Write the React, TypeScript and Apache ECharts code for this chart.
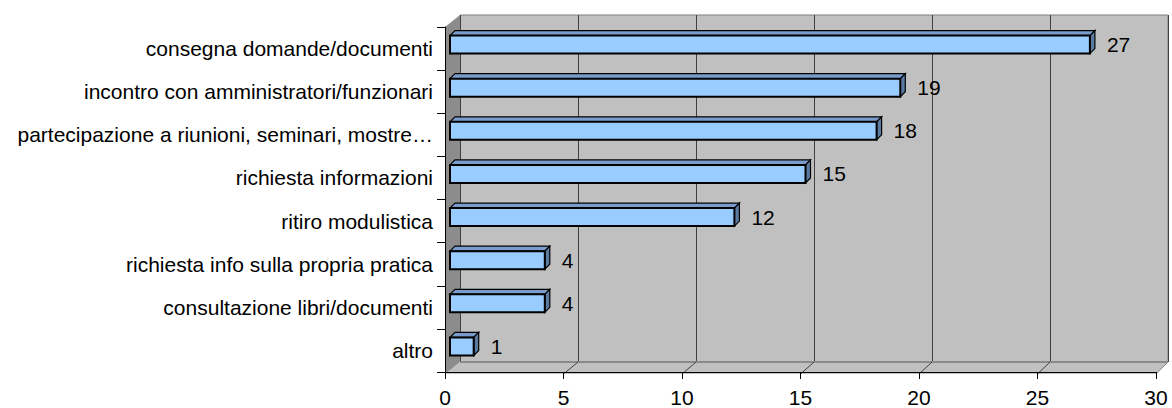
import React, { useEffect, useRef } from "react";
import * as echarts from "echarts";

const categories = [
  "consegna domande/documenti",
  "incontro con amministratori/funzionari",
  "partecipazione a riunioni, seminari, mostre…",
  "richiesta informazioni",
  "ritiro modulistica",
  "richiesta info sulla propria pratica",
  "consultazione libri/documenti",
  "altro",
];
const values = [27, 19, 18, 15, 12, 4, 4, 1];
const xMin = 0;
const xMax = 30;
const xInterval = 5;

const W = 1172;
const H = 408;
const FRONT = { left: 445, top: 27, right: 1156, bottom: 374 };
const BACK = { left: 460, top: 15, right: 1168, bottom: 362 };
const FONT = "'Liberation Sans', Arial, sans-serif";

export default function App() {
  const ref = useRef<HTMLDivElement>(null);

  useEffect(() => {
    if (!ref.current) return;
    const chart = echarts.init(ref.current, undefined, { renderer: "svg" });

    const fs = (FRONT.right - FRONT.left) / (xMax - xMin);
    const bs = (BACK.right - BACK.left) / (xMax - xMin);
    const innerTicks: number[] = [];
    for (let v = xMin + xInterval; v < xMax; v += xInterval) innerTicks.push(v);

    const wallsRender = () => {
      const children: any[] = [
        {
          type: "polygon",
          shape: {
            points: [
              [FRONT.left, FRONT.bottom],
              [FRONT.right, FRONT.bottom],
              [BACK.right, BACK.bottom],
              [BACK.left, BACK.bottom],
            ],
          },
          style: { fill: "#c0c0c0", stroke: "none" },
        },
        {
          type: "line",
          shape: { x1: BACK.left, y1: BACK.bottom, x2: BACK.right, y2: BACK.bottom },
          style: { stroke: "#8a8a8a", lineWidth: 2 },
        },
        {
          type: "line",
          shape: { x1: FRONT.right, y1: FRONT.bottom, x2: BACK.right, y2: BACK.bottom },
          style: { stroke: "#8a8a8a", lineWidth: 1 },
        },
        {
          type: "polygon",
          shape: {
            points: [
              [FRONT.left, FRONT.top],
              [BACK.left, BACK.top],
              [BACK.left, BACK.bottom],
              [FRONT.left, FRONT.bottom],
            ],
          },
          style: { fill: "#8c8c8c", stroke: "none" },
        },
      ];
      innerTicks.forEach((v) => {
        children.push({
          type: "line",
          shape: {
            x1: FRONT.left + (v - xMin) * fs,
            y1: FRONT.bottom,
            x2: BACK.left + (v - xMin) * bs,
            y2: BACK.bottom,
          },
          style: { stroke: "#404040", lineWidth: 1 },
        });
      });
      return { type: "group", children };
    };

    const barRender = (params: any, api: any) => {
      const v = api.value(0);
      const idx = api.value(1);
      const p0 = api.coord([0, idx]);
      const p1 = api.coord([v, idx]);
      const h = 18;
      const sx = 5;
      const sy = -4;
      const d = 5;
      const x0 = p0[0] + sx;
      const x1 = p1[0] + sx;
      const yc = p0[1] + sy;
      const y0 = yc - h / 2;
      const y1 = yc + h / 2;
      return {
        type: "group",
        children: [
          {
            type: "polygon",
            shape: { points: [[x0, y0], [x1, y0], [x1 + d, y0 - d], [x0 + d, y0 - d]] },
            style: { fill: "#7a9ccc", stroke: "#000", lineWidth: 1.2 },
          },
          {
            type: "polygon",
            shape: { points: [[x1, y0], [x1 + d, y0 - d], [x1 + d, y1 - d], [x1, y1]] },
            style: { fill: "#5a7aa0", stroke: "#000", lineWidth: 1.2 },
          },
          {
            type: "rect",
            shape: { x: x0, y: y0, width: x1 - x0, height: h },
            style: { fill: "#99ccff", stroke: "#000", lineWidth: 2 },
          },
          {
            type: "text",
            x: x1 + d + 12,
            y: yc,
            style: {
              text: String(v),
              fill: "#000",
              font: `21px ${FONT}`,
              verticalAlign: "middle",
              align: "left",
            },
          },
        ],
      };
    };

    chart.setOption({
      animation: false,
      backgroundColor: "#ffffff",
      grid: [
        {
          left: BACK.left,
          top: BACK.top,
          width: BACK.right - BACK.left,
          height: BACK.bottom - BACK.top,
          show: true,
          backgroundColor: "#c0c0c0",
          borderColor: "#808080",
          borderWidth: 1,
        },
        {
          left: FRONT.left,
          top: FRONT.top,
          width: FRONT.right - FRONT.left,
          height: FRONT.bottom - FRONT.top,
        },
      ],
      xAxis: [
        {
          gridIndex: 0,
          type: "value",
          min: xMin,
          max: xMax,
          interval: xInterval,
          axisLine: { show: false },
          axisTick: { show: false },
          axisLabel: { show: false },
          splitLine: { show: true, lineStyle: { color: "#404040", width: 1 } },
        },
        {
          gridIndex: 1,
          type: "value",
          min: xMin,
          max: xMax,
          interval: xInterval,
          z: 5,
          axisLine: { show: true, lineStyle: { color: "#000", width: 1 } },
          axisTick: { show: true, length: 7, lineStyle: { color: "#000" } },
          axisLabel: { margin: 15, fontSize: 21, color: "#000", fontFamily: FONT },
          splitLine: { show: false },
        },
      ],
      yAxis: [
        {
          gridIndex: 0,
          type: "category",
          data: categories,
          inverse: true,
          show: false,
        },
        {
          gridIndex: 1,
          type: "category",
          data: categories,
          inverse: true,
          z: 5,
          axisLine: { show: true, lineStyle: { color: "#000", width: 1 } },
          axisTick: { show: true, length: 8, lineStyle: { color: "#000" } },
          axisLabel: {
            margin: 12,
            fontSize: 21,
            color: "#000",
            fontFamily: FONT,
            padding: [0, 0, 5, 0],
          },
          splitLine: { show: false },
        },
      ],
      series: [
        {
          type: "custom",
          coordinateSystem: "none",
          z: 1,
          silent: true,
          data: [0],
          renderItem: wallsRender,
        },
        {
          type: "custom",
          xAxisIndex: 1,
          yAxisIndex: 1,
          z: 3,
          clip: false,
          data: values.map((v, i) => [v, i]),
          encode: { x: 0, y: 1 },
          renderItem: barRender,
        },
      ],
    });

    return () => chart.dispose();
  }, []);

  return (
    <div
      ref={ref}
      style={{ position: "absolute", left: 0, top: 0, width: W, height: H, background: "#fff" }}
    />
  );
}
